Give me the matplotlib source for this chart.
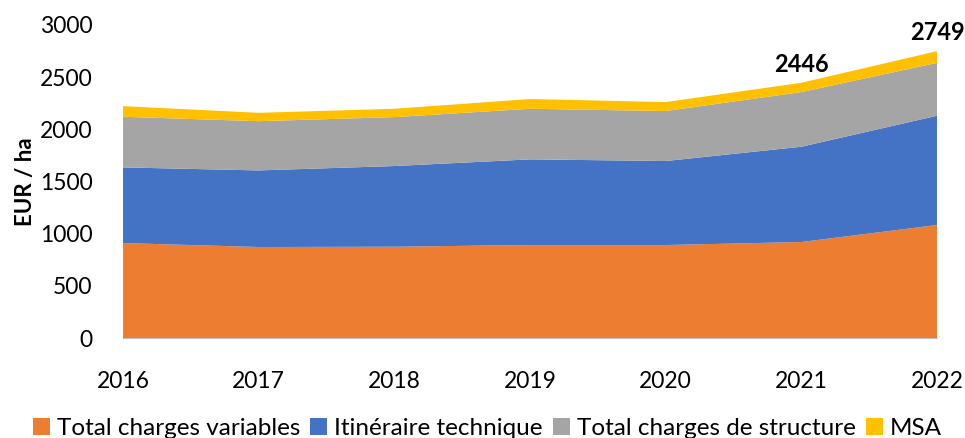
import matplotlib.pyplot as plt

years = [2016, 2017, 2018, 2019, 2020, 2021, 2022]
charges_variables = [910, 872, 875, 891, 891, 920, 1083]
itineraire = [725, 734, 773, 821, 805, 913, 1047]
charges_structure = [485, 472, 469, 485, 479, 524, 507]
msa = [102, 80, 80, 93, 86, 89, 112]
labels = ['Total charges variables', 'Itinéraire technique',
          'Total charges de structure', 'MSA']
colors = ['#ED7D31', '#4472C4', '#A5A5A5', '#FFC000']

# totals shown on the chart
annot_years = [2021, 2022]
annot_values = [2446, 2749]

plt.rcParams['font.family'] = ['Lato', 'DejaVu Sans']

fig = plt.figure(figsize=(9.65, 4.38), dpi=100)
ax = fig.add_axes([0.1275, 0.2283, 0.8435, 0.7147])

ax.stackplot(years, charges_variables, itineraire, charges_structure, msa,
             labels=labels, colors=colors, linewidth=0)

for yr, val in zip(annot_years, annot_values):
    ax.annotate(str(val), (yr, val), xytext=(0, 5), textcoords='offset points',
                ha='center', va='bottom', fontsize=17, fontweight='bold')

ax.set_xlim(2016, 2022)
ax.set_ylim(0, 3000)
ax.set_xticks(years)
ax.set_yticks(range(0, 3001, 500))
ax.tick_params(axis='x', length=0, pad=24, labelsize=16.5)
ax.tick_params(axis='y', length=0, pad=22, labelsize=16.5)
ax.set_ylabel('EUR / ha', fontsize=16, fontweight='bold', labelpad=3)

for side in ['top', 'right', 'left']:
    ax.spines[side].set_visible(False)
ax.spines['bottom'].set_color('#BFBFBF')
ax.spines['bottom'].set_zorder(3)

# legend sits at the bottom edge, partly cut like the original export
fig.legend(loc='center', bbox_to_anchor=(0.505, 0.022), ncol=4, frameon=False,
           fontsize=17.5, handlelength=0.7, handleheight=0.7,
           handletextpad=0.3, columnspacing=0.4)

fig.savefig('out.png', dpi=100)
